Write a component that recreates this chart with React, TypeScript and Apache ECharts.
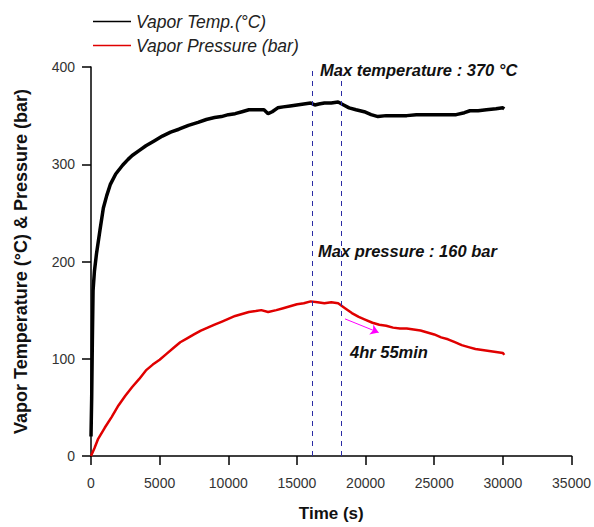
import React, { useEffect, useRef } from "react";
import * as echarts from "echarts";

const tempTime = [0, 50, 100, 150, 250, 400, 650, 900, 1150, 1400, 1800, 2300, 2700, 3000, 3500, 4000, 4600, 5200, 5800, 6400, 7100, 7800, 8400, 9000, 9500, 10000, 10500, 11000, 11500, 12000, 12600, 12900, 13200, 13600, 14000, 14500, 15000, 15500, 16000, 16300, 16600, 17000, 17500, 18000, 18400, 18800, 19300, 19900, 20400, 20900, 21500, 22300, 23000, 23700, 24700, 25500, 26600, 27200, 27600, 28200, 28800, 29500, 30000, 30100];
const tempValue = [20, 60, 120, 170, 190, 208, 232, 255, 268, 279, 290, 299, 305, 309, 314, 319, 324, 329, 333, 336, 340, 343, 346, 348, 349, 351, 352, 354, 356, 356, 356, 352, 354, 358, 359, 360, 361, 362, 363, 361, 362, 363, 363, 364, 361, 358, 356, 354, 351, 349, 350, 350, 350, 351, 351, 351, 351, 353, 355, 355, 356, 357, 358, 357];

const presTime = [0, 250, 500, 1000, 1500, 2000, 2500, 3000, 3500, 4000, 4500, 5000, 5500, 6000, 6500, 7000, 7500, 8000, 8500, 9000, 9500, 10000, 10500, 11000, 11500, 12000, 12400, 12900, 13500, 14000, 14500, 15000, 15500, 16000, 16500, 17000, 17500, 18000, 18500, 19000, 19500, 20000, 20500, 21000, 21500, 22000, 22500, 23000, 23500, 24000, 24500, 25000, 25500, 26000, 26500, 27000, 27500, 28000, 28500, 29000, 29500, 30000, 30100];
const presValue = [0, 8, 17, 29, 40, 52, 62, 71, 79, 88, 94, 99, 105, 111, 117, 121, 125, 129, 132, 135, 138, 141, 144, 146, 148, 149, 150, 148, 150, 152, 154, 156, 157, 159, 158, 157, 158, 157, 152, 147, 143, 140, 137, 135, 134, 132, 131, 131, 130, 129, 127, 125, 122, 120, 117, 114, 112, 110, 109, 108, 107, 106, 104];

const markerTimes = [16100, 18200];
const arrowStart = [18500, 141];
const arrowEnd = [20950, 127];

const xTicks = { min: 0, max: 35000, interval: 5000 };
const yTicks = { min: 0, max: 400, interval: 100 };

export default function App() {
  const ref = useRef<HTMLDivElement>(null);
  useEffect(() => {
    if (!ref.current) return;
    const chart = echarts.init(ref.current, null, { renderer: "svg" });
    const font = "Arial, 'Liberation Sans', sans-serif";
    chart.setOption({
      animation: false,
      backgroundColor: "#ffffff",
      grid: { left: 91, right: 18, top: 67, bottom: 64 },
      legend: {
        orient: "vertical",
        left: 93,
        top: 12,
        padding: 0,
        itemWidth: 38,
        itemHeight: 1.5,
        itemGap: 5,
        icon: "rect",
        textStyle: { fontFamily: font, fontStyle: "italic", fontSize: 17.5, color: "#222", lineHeight: 19 },
        data: [
          { name: "Vapor Temp.(°C)", itemStyle: { color: "#000" } },
          { name: "Vapor Pressure (bar)", itemStyle: { color: "#e00000" } },
        ],
      },
      xAxis: {
        type: "value",
        min: xTicks.min,
        max: xTicks.max,
        interval: xTicks.interval,
        name: "Time (s)",
        nameLocation: "middle",
        nameGap: 49,
        nameTextStyle: { fontFamily: font, fontWeight: "bold", fontSize: 17, color: "#111" },
        axisLine: { lineStyle: { color: "#000", width: 1.5 } },
        axisTick: { inside: false, length: 9, lineStyle: { color: "#000", width: 1.5 } },
        axisLabel: { margin: 20, fontFamily: font, fontSize: 14, color: "#333", formatter: (v: number) => String(v) },
        splitLine: { show: false },
      },
      yAxis: {
        type: "value",
        min: yTicks.min,
        max: yTicks.max,
        interval: yTicks.interval,
        name: "Vapor Temperature (°C) & Pressure (bar)",
        nameLocation: "middle",
        nameGap: 61,
        nameTextStyle: { fontFamily: font, fontWeight: "bold", fontSize: 18, color: "#111" },
        axisLine: { show: true, lineStyle: { color: "#000", width: 1.5 } },
        axisTick: { show: true, inside: false, length: 9, lineStyle: { color: "#000", width: 1.5 } },
        axisLabel: { margin: 16, fontFamily: font, fontSize: 14, color: "#333", formatter: (v: number) => String(v) },
        splitLine: { show: false },
      },
      series: [
        {
          name: "Vapor Temp.(°C)",
          type: "line",
          symbol: "none",
          data: tempTime.map((t, i) => [t, tempValue[i]]),
          lineStyle: { color: "#000", width: 3.5 },
          itemStyle: { color: "#000" },
          markLine: {
            silent: true,
            symbol: ["none", "none"],
            label: { show: false },
            lineStyle: { color: "#2b2ba5", type: [5, 5], width: 1 },
            data: markerTimes.map((x) => ({ xAxis: x })),
          },
        },
        {
          name: "Vapor Pressure (bar)",
          type: "line",
          symbol: "none",
          data: presTime.map((t, i) => [t, presValue[i]]),
          lineStyle: { color: "#e00000", width: 2.5 },
          itemStyle: { color: "#e00000" },
          markLine: {
            silent: true,
            symbol: ["none", "arrow"],
            symbolSize: 8,
            label: { show: false },
            lineStyle: { color: "#ff00ff", type: "solid", width: 1 },
            data: [[{ coord: arrowStart }, { coord: arrowEnd }]],
          },
        },
      ],
      graphic: [
        {
          type: "text",
          left: 320,
          top: 61,
          style: { text: "Max temperature : 370 °C", fontFamily: font, fontWeight: "bold", fontStyle: "italic", fontSize: 16.5, fill: "#111" },
        },
        {
          type: "text",
          left: 318,
          top: 242,
          style: { text: "Max pressure : 160 bar", fontFamily: font, fontWeight: "bold", fontStyle: "italic", fontSize: 16.5, fill: "#111" },
        },
        {
          type: "text",
          left: 350,
          top: 343,
          style: { text: "4hr 55min", fontFamily: font, fontWeight: "bold", fontStyle: "italic", fontSize: 16.5, fill: "#111" },
        },
      ],
    });
    return () => chart.dispose();
  }, []);
  return <div ref={ref} style={{ position: "absolute", left: 0, top: 0, width: 594, height: 527 }} />;
}
